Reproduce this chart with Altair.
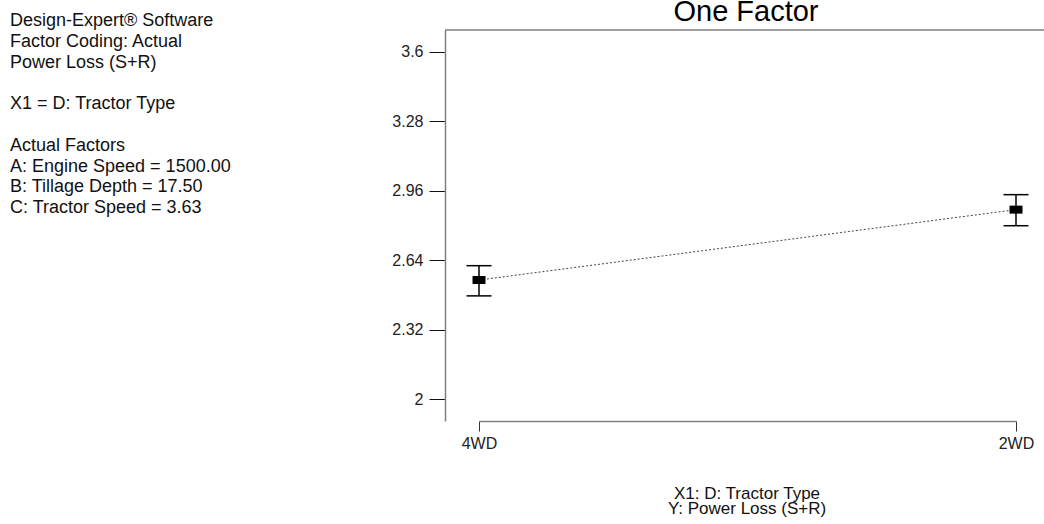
import altair as alt
import pandas as pd

# Model prediction for each tractor type with its 95% interval
tractor_types = ["4WD", "2WD"]
predicted = [2.549, 2.873]
lower_ci = [2.476, 2.799]
upper_ci = [2.615, 2.942]

y_ticks = [2, 2.32, 2.64, 2.96, 3.28, 3.6]
y_domain = [1.9, 3.7]

# Side annotation, in blocks separated by a blank line
info_header = [
    "Design-Expert\u00ae Software",
    "Factor Coding: Actual",
    "Power Loss (S+R)",
]
info_factor = ["X1 = D: Tractor Type"]
info_fixed = [
    "Actual Factors",
    "A: Engine Speed = 1500.00",
    "B: Tillage Depth = 17.50",
    "C: Tractor Speed = 3.63",
]
chart_title = "One Factor"
x_title = "X1: D: Tractor Type"
y_title = "Y: Power Loss (S+R)"

FONT = "Liberation Sans"
LINE_H = 20.8

df = pd.DataFrame({
    "type": tractor_types,
    "pred": predicted,
    "lo": lower_ci,
    "hi": upper_ci,
})

x_enc = alt.X(
    "type:N",
    sort=tractor_types,
    scale=alt.Scale(type="point", range=[34, 571], padding=0),
    axis=alt.Axis(
        title=None, labelAngle=0, domainColor="#7f7f7f", domainWidth=1.5,
        tickColor="#333333", tickSize=10, tickWidth=1, labelPadding=4,
        labelFontSize=16, labelColor="#222222", labelFont=FONT, grid=False,
    ),
)
y_scale = alt.Scale(domain=y_domain, nice=False, zero=False)
y_axis = alt.Axis(
    title=None, values=y_ticks, labelExpr="format(datum.value, '.3~g')",
    domainColor="#7f7f7f", domainWidth=1.5, tickColor="#111111",
    tickSize=16, tickWidth=1, labelPadding=6, labelFontSize=16,
    labelColor="#222222", labelFont=FONT, grid=False,
)

base = alt.Chart(df)

# Dotted line joining the predictions (also carries the axes)
trend = base.mark_line(color="#444444", strokeWidth=1, strokeDash=[2, 2]).encode(
    x=x_enc,
    y=alt.Y("pred:Q", scale=y_scale, axis=y_axis),
)

whisker = base.mark_rule(color="black", strokeWidth=1.5).encode(
    x=alt.X("type:N", sort=tractor_types),
    y="lo:Q",
    y2="hi:Q",
)
cap_lo = base.mark_tick(color="black", opacity=1, size=25, thickness=1.5).encode(
    x=alt.X("type:N", sort=tractor_types), y="lo:Q"
)
cap_hi = base.mark_tick(color="black", opacity=1, size=25, thickness=1.5).encode(
    x=alt.X("type:N", sort=tractor_types), y="hi:Q"
)
box = base.mark_tick(color="black", opacity=1, size=13, thickness=8).encode(
    x=alt.X("type:N", sort=tractor_types), y="pred:Q"
)

# Top frame line at the upper end of the y domain
top_frame = alt.Chart(pd.DataFrame({"v": [y_domain[1]]})).mark_rule(
    color="#7f7f7f", strokeWidth=1.5
).encode(y="v:Q")

one = pd.DataFrame({"k": [0]})


def text_block(lines, first_line):
    return alt.Chart(one).mark_text(
        text=lines, align="left", baseline="alphabetic", font=FONT,
        fontSize=18, lineHeight=LINE_H, color="#111111",
    ).encode(x=alt.value(-435), y=alt.value(-4 + first_line * LINE_H))


info1 = text_block(info_header, 0)
info2 = text_block(info_factor, 4)
info3 = text_block(info_fixed, 6)

title = alt.Chart(one).mark_text(
    text=chart_title, align="center", baseline="alphabetic", font=FONT,
    fontSize=29, color="black",
).encode(x=alt.value(301), y=alt.value(-9))

xt = alt.Chart(one).mark_text(
    text=x_title, align="center", baseline="alphabetic", font=FONT,
    fontSize=17, color="#111111",
).encode(x=alt.value(302), y=alt.value(469))

yt = alt.Chart(one).mark_text(
    text=y_title, align="center", baseline="alphabetic", font=FONT,
    fontSize=17, color="#111111",
).encode(x=alt.value(302), y=alt.value(484))

chart = alt.layer(
    top_frame, trend, whisker, cap_lo, cap_hi, box,
    info1, info2, info3, title, xt, yt
).properties(
    width=599,
    height=391,
    autosize=alt.AutoSizeParams(type="none"),
    padding={"left": 445, "top": 30, "right": 0, "bottom": 103},
    background="white",
).configure_view(stroke=None)

chart.save("out.html", embed_options={"renderer": "svg", "actions": False})
